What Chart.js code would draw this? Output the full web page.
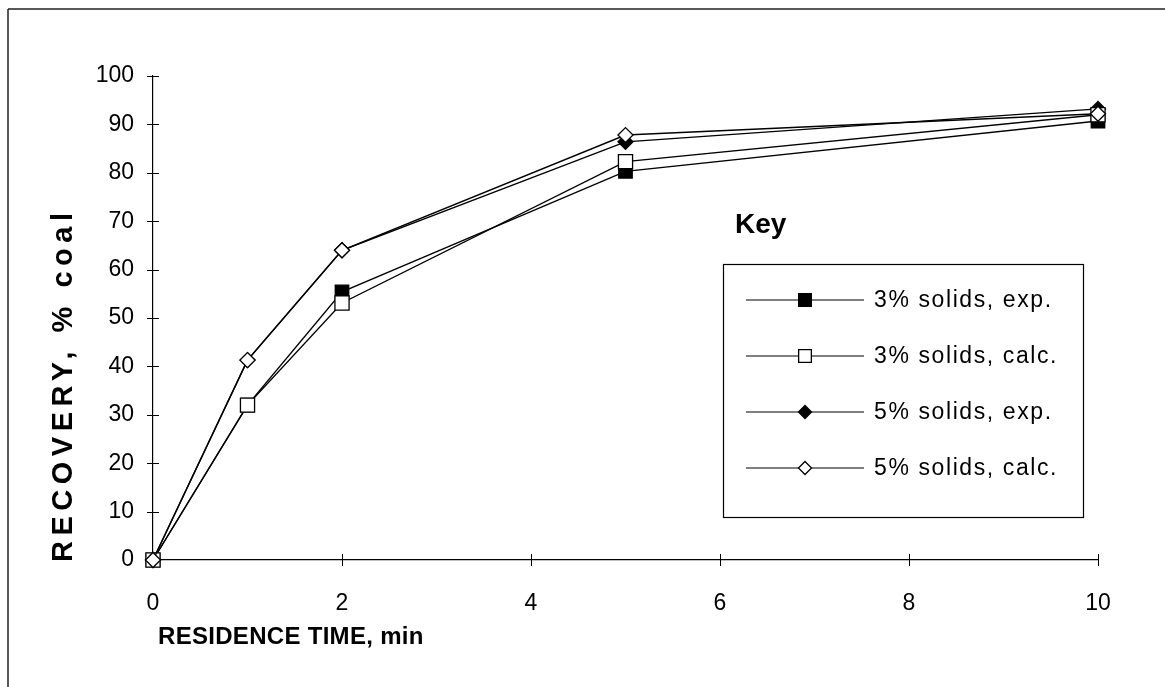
<!DOCTYPE html>
<html>
<head>
<meta charset="utf-8">
<script src="https://cdn.jsdelivr.net/npm/chart.js@4.4.1/dist/chart.umd.min.js"></script>
<style>
  html, body { margin: 0; padding: 0; background: #fff; }
  #wrap { width: 1165px; height: 687px; position: relative; }
</style>
</head>
<body>
<div id="wrap"><canvas id="c" width="1165" height="687"></canvas></div>
<script>
// ---- data ----
const times = [0, 1, 2, 5, 10];
const solids3Exp  = [0, 32, 55.4, 80.3, 90.7];
const solids3Calc = [0, 32, 53.1, 82.3, 92.0];
const solids5Exp  = [0, 41.3, 64.0, 86.4, 93.2];
const solids5Calc = [0, 41.3, 64.0, 87.8, 92.2];
const seriesLabels = ['3% solids, exp.', '3% solids, calc.', '5% solids, exp.', '5% solids, calc.'];
const xTicks = [0, 2, 4, 6, 8, 10];
const yTicks = [0, 10, 20, 30, 40, 50, 60, 70, 80, 90, 100];
const xTitle = 'RESIDENCE TIME, min';
const yTitle = 'RECOVERY, % coal';
const keyTitle = 'Key';

const FONT = "Arial, 'Liberation Sans', Helvetica, sans-serif";
const toXY = arr => arr.map((v, i) => ({ x: times[i], y: v }));

const styles = [
  { pointStyle: 'rect',    radius: 9.5, fill: '#000', order: 2 },
  { pointStyle: 'rect',    radius: 10,  fill: '#fff', order: 1 },
  { pointStyle: 'rectRot', radius: 7.5, fill: '#000', order: 3 },
  { pointStyle: 'rectRot', radius: 7.5, fill: '#fff', order: 0 }
];
const values = [solids3Exp, solids3Calc, solids5Exp, solids5Calc];

const datasets = values.map((v, i) => ({
  label: seriesLabels[i],
  data: toXY(v),
  order: styles[i].order,
  clip: false,
  borderColor: '#000',
  borderWidth: 1.4,
  pointStyle: styles[i].pointStyle,
  pointRadius: styles[i].radius,
  pointHoverRadius: styles[i].radius,
  pointBackgroundColor: styles[i].fill,
  pointBorderColor: '#000',
  pointBorderWidth: 1.3,
  tension: 0,
  fill: false
}));

const CA = { left: 153, right: 1098, top: 76, bottom: 560 };

const decor = {
  id: 'decor',
  beforeDraw(chart) {
    const ctx = chart.ctx;
    ctx.save();
    ctx.fillStyle = '#fff';
    ctx.fillRect(0, 0, chart.width, chart.height);
    ctx.strokeStyle = '#222';
    ctx.lineWidth = 1.5;
    ctx.beginPath();
    ctx.moveTo(8, 9); ctx.lineTo(1165, 9);
    ctx.moveTo(8, 9); ctx.lineTo(8, 687);
    ctx.stroke();
    ctx.restore();
  },
  beforeDatasetsDraw(chart) {
    const ctx = chart.ctx;
    const xs = chart.scales.x, ys = chart.scales.y;
    ctx.save();
    // crossing tick marks
    ctx.strokeStyle = '#000';
    ctx.lineWidth = 1;
    ctx.beginPath();
    ys.ticks.forEach(t => {
      const p = Math.round(ys.getPixelForValue(t.value)) + 0.5;
      ctx.moveTo(xs.left - 6, p); ctx.lineTo(xs.left + 6, p);
    });
    xs.ticks.forEach(t => {
      const p = Math.round(xs.getPixelForValue(t.value)) + 0.5;
      ctx.moveTo(p, ys.bottom - 6); ctx.lineTo(p, ys.bottom + 6);
    });
    ctx.stroke();
    ctx.restore();
  },
  afterDraw(chart) {
    const ctx = chart.ctx;
    ctx.save();
    // axis titles
    ctx.fillStyle = '#000';
    ctx.textBaseline = 'middle';
    ctx.textAlign = 'left';
    ctx.font = 'bold 24px ' + FONT;
    if ('letterSpacing' in ctx) ctx.letterSpacing = '0.3px';
    ctx.fillText(xTitle, 158, 637);
    ctx.save();
    ctx.translate(64, 562);
    ctx.rotate(-Math.PI / 2);
    ctx.font = 'bold 29px ' + FONT;
    if ('letterSpacing' in ctx) ctx.letterSpacing = '5.5px';
    ctx.fillText(yTitle, 0, 0);
    if ('letterSpacing' in ctx) ctx.letterSpacing = '0px';
    ctx.restore();

    // Key legend
    ctx.font = 'bold 28px ' + FONT;
    ctx.textAlign = 'left';
    if ('letterSpacing' in ctx) ctx.letterSpacing = '0px';
    ctx.fillText(keyTitle, 735, 225);
    const bx = 723, by = 264, bw = 360, bh = 253;
    ctx.lineWidth = 1.2;
    ctx.strokeStyle = '#000';
    ctx.strokeRect(bx + 0.5, by + 0.5, bw, bh);
    [0, 1, 2, 3].forEach((idx, i) => {
      const ds = chart.data.datasets[idx];
      const y = 300 + i * 56;
      ctx.beginPath();
      ctx.lineWidth = 1.2;
      ctx.strokeStyle = '#000';
      ctx.moveTo(746, y); ctx.lineTo(864, y);
      ctx.stroke();
      const r = ds.pointStyle === 'rect' ? 9 : 6.5;
      ctx.fillStyle = ds.pointBackgroundColor;
      ctx.strokeStyle = '#000';
      ctx.lineWidth = 1.3;
      Chart.helpers.drawPoint(ctx, { pointStyle: ds.pointStyle, radius: r, borderWidth: 1.3 }, 805, y);
      ctx.fillStyle = '#000';
      ctx.font = '23px ' + FONT;
      if ('letterSpacing' in ctx) ctx.letterSpacing = '1.6px';
      ctx.fillText(ds.label, 874, y + 1);
      if ('letterSpacing' in ctx) ctx.letterSpacing = '0px';
    });
    ctx.restore();
  }
};

new Chart(document.getElementById('c'), {
  type: 'line',
  data: { datasets },
  options: {
    responsive: false,
    animation: false,
    devicePixelRatio: 1,
    layout: { padding: { left: 0, top: CA.top, right: 1165 - CA.right, bottom: 0 } },
    plugins: { legend: { display: false }, tooltip: { enabled: false }, title: { display: false } },
    scales: {
      x: {
        type: 'linear',
        min: 0, max: 10,
        afterBuildTicks: s => { s.ticks = xTicks.map(v => ({ value: v })); },
        afterFit: s => { s.height = 687 - CA.bottom; },
        grid: { display: true, drawOnChartArea: false, drawTicks: false },
        border: { display: true, color: '#000', width: 1.2 },
        ticks: { color: '#000', font: { family: FONT, size: 23 }, padding: 30, maxRotation: 0 }
      },
      y: {
        type: 'linear',
        min: 0, max: 100,
        afterBuildTicks: s => { s.ticks = yTicks.map(v => ({ value: v })); },
        afterFit: s => { s.width = CA.left; },
        grid: { display: true, drawOnChartArea: false, drawTicks: false },
        border: { display: true, color: '#000', width: 1.2 },
        ticks: { color: '#000', font: { family: FONT, size: 23 }, padding: 19 }
      }
    }
  },
  plugins: [decor]
});
</script>
</body>
</html>
